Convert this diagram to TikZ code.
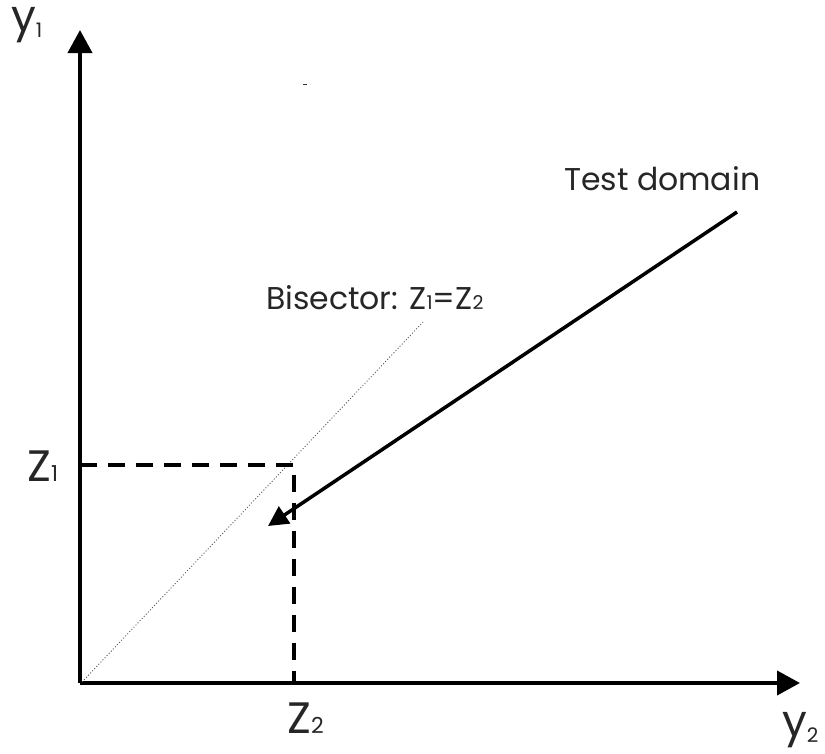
\documentclass[tikz,border=0pt]{standalone}
\usepackage{fontspec}
\setmainfont{Poppins}
\usetikzlibrary{arrows.meta}
\begin{document}
\begin{tikzpicture}[x=1pt,y=-1pt,
  axis/.style={line width=4pt,-{Triangle[length=23pt,width=24pt]}},
  dashline/.style={line width=4pt,dash pattern=on 17pt off 11pt},
  dotline/.style={line width=0.9pt,black!65,dash pattern=on 1pt off 2pt},
  testline/.style={line width=3.5pt,-{Triangle[length=20pt,width=20pt]}},
  lab/.style={inner sep=0pt,anchor=base west,text=black!85},
  biglab/.style={lab,font=\fontsize{44}{44}\selectfont},
  midlab/.style={lab,font=\fontsize{31.5}{31.5}\selectfont}]
\useasboundingbox (0,0) rectangle (825,753);
\coordinate (O) at (80,683);
\coordinate (ytop) at (80,30);
\coordinate (xend) at (800,683);
\coordinate (zcorner) at (294,465);
\coordinate (zone) at (80,465);
\coordinate (ztwo) at (294,683);
\coordinate (bisA) at (82,682);
\coordinate (bisB) at (423,322);
\coordinate (tdA) at (737,212);
\coordinate (tdB) at (268,526);
\coordinate (markA) at (303,84);
\coordinate (markB) at (307,84);
\draw[axis] (O) -- (ytop);
\draw[axis] (O) -- (xend);
\draw[dotline] (bisA) -- (bisB);
\draw[dashline] (zone) -- (zcorner) -- (ztwo);
\draw[testline] (tdA) -- (tdB);
\draw[line width=1pt,black!80] (markA) -- (markB);
\node[biglab] (ylab1) at (11,31) {y\raisebox{-0.15em}{\fontsize{20}{20}\selectfont 1}};
\node[biglab] (ylab2) at (782,736) {y\raisebox{-0.15em}{\fontsize{20}{20}\selectfont 2}};
\node[biglab] (zlab1) at (27,481) {Z\fontsize{22}{22}\selectfont 1};
\node[biglab] (zlab2) at (287,733) {Z\fontsize{22}{22}\selectfont 2};
\node[midlab] (bis) at (266,309) {Bisector: Z\fontsize{19}{19}\selectfont 1\fontsize{31.5}{31.5}\selectfont =Z\fontsize{19}{19}\selectfont 2};
\node[midlab] (td) at (564,190) {Test domain};
\end{tikzpicture}
\end{document}
